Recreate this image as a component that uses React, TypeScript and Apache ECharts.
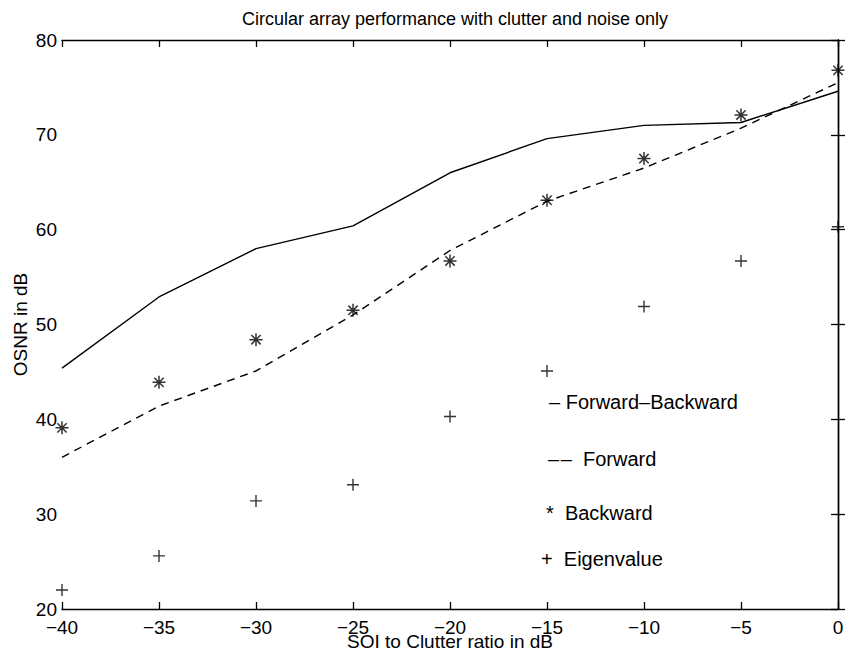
import React, { useEffect, useRef } from "react";
import * as echarts from "echarts";

const snr = [-40, -35, -30, -25, -20, -15, -10, -5, 0];
const forwardBackward = [45.4, 52.9, 58.0, 60.4, 66.0, 69.6, 71.0, 71.3, 74.6];
const forward = [36.0, 41.4, 45.1, 51.0, 57.8, 63.0, 66.5, 70.7, 75.5];
const backward = [39.1, 43.9, 48.4, 51.5, 56.7, 63.1, 67.5, 72.1, 76.8];
const eigenvalue = [22.0, 25.6, 31.4, 33.1, 40.3, 45.1, 51.9, 56.7, 60.3];

const legendTexts = ["\u2013 Forward\u2013Backward", "\u2013\u200A\u2013  Forward", "*  Backward", "+  Eigenvalue"];

const pair = (ys: number[]) => snr.map((x, i) => [x, ys[i]]);
const fmt = (v: number) => String(v).replace("-", "\u2212");

const STAR = "path://M0,-5L0,5M-5,0L5,0M-3.6,-3.6L3.6,3.6M-3.6,3.6L3.6,-3.6";
const PLUS = "path://M0,-5L0,5M-5,0L5,0";

export default function App() {
  const ref = useRef<HTMLDivElement>(null);
  useEffect(() => {
    const chart = echarts.init(ref.current!, null, { renderer: "svg" });
    const font = "'Liberation Sans', Arial, Helvetica, sans-serif";
    const axisCommon = {
      type: "value" as const,
      axisLine: { show: true, lineStyle: { color: "#000", width: 1.4 } },
      axisTick: { show: true, inside: true, length: 7, lineStyle: { color: "#000", width: 1.3 } },
      splitLine: { show: false },
    };
    const legendStyle = { fontSize: 20, fill: "#000", fontFamily: font };
    chart.setOption({
      animation: false,
      backgroundColor: "#fff",
      textStyle: { fontFamily: font },
      title: {
        text: "Circular array performance with clutter and noise only",
        left: 450,
        textAlign: "center",
        top: 5,
        textStyle: { fontSize: 18, fontWeight: "normal", color: "#000", fontFamily: font },
      },
      grid: { left: 62, right: 10, top: 40, bottom: 47, containLabel: false, outerBoundsMode: "none" },
      xAxis: [
        {
          ...axisCommon,
          min: -40,
          max: 0,
          interval: 5,
          position: "bottom",
          name: "SOI to Clutter ratio in dB",
          nameLocation: "middle",
          nameGap: 23,
          nameMoveOverlap: false,
          nameTextStyle: { fontSize: 19, color: "#000", fontFamily: font },
          axisLabel: { color: "#000", fontSize: 19, lineHeight: 14, margin: 11, formatter: fmt, fontFamily: font },
        },
        {
          ...axisCommon,
          min: -40,
          max: 0,
          interval: 5,
          position: "top",
          axisLabel: { show: false },
        },
      ],
      yAxis: [
        {
          ...axisCommon,
          min: 20,
          max: 80,
          interval: 10,
          position: "left",
          name: "OSNR in dB",
          nameLocation: "middle",
          nameGap: 32,
          nameMoveOverlap: false,
          nameTextStyle: { fontSize: 19, color: "#000", fontFamily: font },
          axisLabel: { color: "#000", fontSize: 19, lineHeight: 14, margin: 5, fontFamily: font },
        },
        {
          ...axisCommon,
          min: 20,
          max: 80,
          interval: 10,
          position: "right",
          axisLabel: { show: false },
        },
      ],
      series: [
        {
          name: "Forward-Backward",
          type: "line",
          data: pair(forwardBackward),
          symbol: "none",
          lineStyle: { color: "#000", width: 1.4 },
        },
        {
          name: "Forward",
          type: "line",
          data: pair(forward),
          symbol: "none",
          lineStyle: { color: "#000", width: 1.4, type: [8, 6] },
        },
        {
          name: "Backward",
          type: "scatter",
          data: pair(backward),
          symbol: STAR,
          symbolSize: 13,
          itemStyle: { color: "transparent", borderColor: "#000", borderWidth: 1.5 },
        },
        {
          name: "Eigenvalue",
          type: "scatter",
          data: pair(eigenvalue),
          symbol: PLUS,
          symbolSize: 12,
          itemStyle: { color: "transparent", borderColor: "#000", borderWidth: 1.4 },
        },
      ],
      graphic: [
        { type: "text", left: 549, top: 392, style: { text: legendTexts[0], ...legendStyle } },
        { type: "text", left: 548, top: 449, style: { text: legendTexts[1], ...legendStyle } },
        { type: "text", left: 546, top: 503, style: { text: legendTexts[2], ...legendStyle } },
        { type: "text", left: 541, top: 549, style: { text: legendTexts[3], ...legendStyle } },
      ],
    });
    return () => chart.dispose();
  }, []);
  return <div ref={ref} style={{ width: 848, height: 656, position: "absolute", left: 0, top: 0 }} />;
}
